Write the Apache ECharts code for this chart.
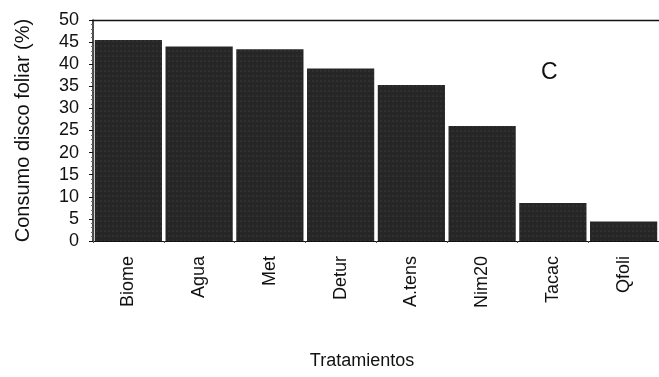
<!DOCTYPE html>
<html><head><meta charset="utf-8">
<script src="https://cdn.jsdelivr.net/npm/echarts@6/dist/echarts.min.js"></script>
<style>html,body{margin:0;padding:0;background:#fff}#c{width:659px;height:377px}</style>
</head><body><div id="c"></div>
<script>
const categories = ['Biome','Agua','Met','Detur','A.tens','Nim20','Tacac','Qfoli'];
const consumo = [45.5, 44, 43.4, 39, 35.3, 26, 8.6, 4.4];
const yTicks = [0,5,10,15,20,25,30,35,40,45,50];

const chart = echarts.init(document.getElementById('c'));
chart.setOption({
  animation:false,
  backgroundColor:'#fff',
  grid:{left:93,right:0,top:20,bottom:136},
  xAxis:[{
    type:'category', data:categories, position:'bottom',
    name:'Tratamientos', nameLocation:'middle', nameGap:111,
    nameTextStyle:{fontFamily:'Liberation Sans',fontSize:18,color:'#111',padding:[0,28,0,0]},
    axisLine:{show:true,lineStyle:{color:'#111',width:1}},
    axisTick:{show:true,length:2,lineStyle:{color:'#555'}},
    axisLabel:{rotate:90,margin:15,fontFamily:'Liberation Sans',fontSize:18,color:'#111'}
  },{
    type:'category', data:categories, position:'top',
    axisLine:{show:true,lineStyle:{color:'#111',width:1.3}},
    axisTick:{show:false}, axisLabel:{show:false}
  }],
  yAxis:{
    type:'value', min:0, max:50, interval:5,
    name:'Consumo disco foliar (%)', nameLocation:'middle', nameGap:60, nameRotate:90,
    nameTextStyle:{fontFamily:'Liberation Sans',fontSize:20,color:'#111'},
    axisLine:{show:true,lineStyle:{color:'#111',width:1.5}},
    axisTick:{show:true,length:4,lineStyle:{color:'#111'}},
    minorTick:{show:true,splitNumber:5,length:2,lineStyle:{color:'#666'}},
    splitLine:{show:false},
    axisLabel:{margin:14,fontFamily:'Liberation Sans',fontSize:18,color:'#111',
      formatter:v=>yTicks.includes(v)?String(v):''}
  },
  series:[{
    type:'bar', data:consumo, barCategoryGap:'5%',
    itemStyle:{color:'#262626',
      decal:{symbol:'circle',symbolSize:0.6,dashArrayX:[2,2],dashArrayY:[2,3],color:'rgba(255,255,255,0.22)'}}
  }],
  graphic:[{type:'text',left:541,top:61,style:{text:'C',font:'23px "Liberation Sans"',fill:'#111'}}]
});
</script></body></html>
